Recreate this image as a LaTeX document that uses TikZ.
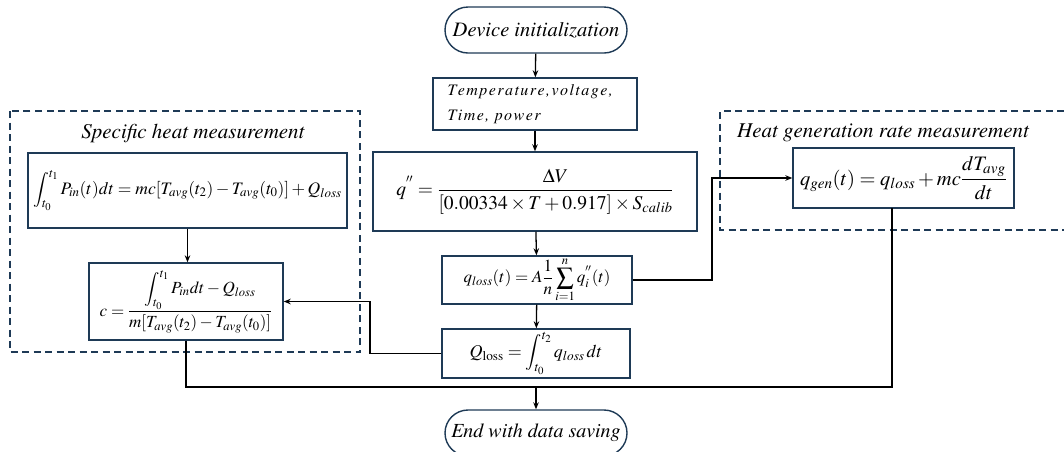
\documentclass[tikz,border=0pt]{standalone}
\usepackage{amsmath}
\usepackage{mathptmx}
\usepackage[no-math]{fontspec}
\setmainfont{Liberation Serif}
\newcommand\tmsit{\usefont{OT1}{ptm}{m}{it}}
\makeatletter
\newcommand\lsp[1]{\@tfor\lspx:=#1\do{\lspx\kern1.45pt}}
\makeatother
\usetikzlibrary{arrows.meta,shapes.misc}
\definecolor{navy}{HTML}{1E3A56}
\begin{document}
\begin{tikzpicture}[x=1pt,y=-1pt,
  box/.style={draw=navy, line width=1.4pt, inner sep=0pt, fill=white},
  term/.style={rounded rectangle, draw=navy, line width=1.4pt, inner sep=0pt,
     minimum width=182pt, minimum height=46pt, font=\fontsize{20.5}{24}\tmsit},
  grp/.style={draw=navy, line width=1.4pt, dash pattern=on 7pt off 4.5pt},
  ttl/.style={font=\fontsize{21}{25}\tmsit},
  eq/.style={font=\fontsize{18}{22}\selectfont},
  conn/.style={draw=black, line width=1.3pt},
  arr/.style={conn, -{Stealth[length=7pt,width=5.5pt]}}]
\useasboundingbox (0,0) rectangle (1064,451);

% group frames
\draw[grp] (10,111) rectangle (360,352);
\draw[grp] (1064,111) -- (720,111) -- (720,230) -- (1064,230);
\node[ttl] (t1) at (193,133) {Specific heat measurement};
\node[ttl] (t2) at (883,133) {Heat generation rate measurement};

% main column
\node[term] (init) at (536,30) {Device initialization};
\node[box, minimum width=204pt, minimum height=52pt] (temp) at (535,104) {};
\node[anchor=west, align=left, font=\fontsize{16}{25}\tmsit] (ttxt) at (444,104)
  {\lsp{Temperature,voltage,}\\\lsp{Time,}\ \lsp{power}};
\node[box, minimum width=324pt, minimum height=79pt, font=\fontsize{19.5}{23}\selectfont] (qpp) at (535,191.5)
  {$\displaystyle q^{''}=\frac{\Delta V}{[0.00334\times T+0.917]\times S_{calib}}$};
\node[box, minimum width=190pt, minimum height=48pt, font=\fontsize{17}{20}\selectfont] (ql) at (537,280)
  {$\displaystyle q_{loss}(t)=A\frac{1}{n}\sum_{i=1}^{n}q_i^{''}(t)$};
\node[box, minimum width=188pt, minimum height=49pt, eq] (Ql) at (536,353.5)
  {$\displaystyle Q_{\mathrm{loss}}=\int_{t_0}^{t_2}q_{loss}\,dt$};
\node[term, font=\fontsize{20}{24}\tmsit] (end) at (536,433) {End with data saving};

% left group
\node[box, minimum width=319pt, minimum height=75pt, font=\fontsize{17.5}{21}\selectfont] (int) at (187.5,190.5)
  {$\displaystyle \int_{t_0}^{t_1}P_{in}(t)dt=mc[T_{avg}(t_2)-T_{avg}(t_0)]+Q_{loss}$};
\node[box, minimum width=194pt, minimum height=77pt, font=\fontsize{17}{20}\selectfont] (c) at (186,301.5)
  {$\displaystyle c=\frac{\displaystyle\int_{t_0}^{t_1}P_{in}dt-Q_{loss}}{m[T_{avg}(t_2)-T_{avg}(t_0)]}$};

% right group
\node[box, minimum width=221pt, minimum height=60pt, font=\fontsize{20.5}{24}\selectfont] (qg) at (903.5,178)
  {$\displaystyle q_{gen}(t)=q_{loss}+mc\frac{dT_{avg}}{dt}$};

% connectors
\draw[arr] (init) -- (temp);
\draw[arr] (temp) -- (qpp);
\draw[arr] (qpp) -- (ql);
\draw[arr] (ql) -- (Ql);
\draw[arr] (int.south) -- (int.south |- c.north);
\coordinate (r1) at (712,280);
\draw[arr] (ql.east) -- (r1) |- (qg.west);
\coordinate (l1) at (370,353.5);
\draw[arr] (Ql.west) -- (l1) |- (c.east);
\coordinate (jn) at (536,387);
\coordinate (qgb) at (892,208);
\draw[conn] (c.south) |- (jn);
\draw[conn] (qgb) |- (jn);
\draw[arr] (jn) -- (end.north);
\end{tikzpicture}
\end{document}
